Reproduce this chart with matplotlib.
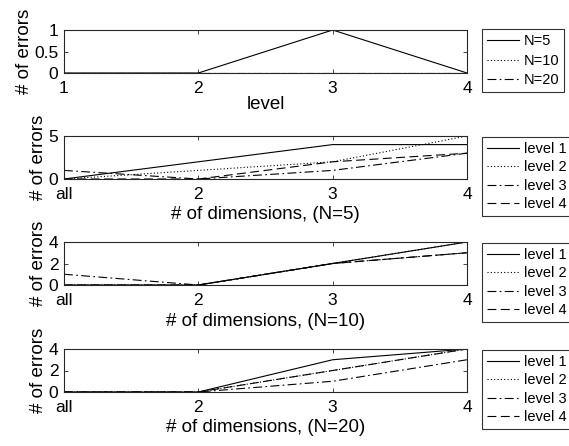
import matplotlib
matplotlib.use("Agg")
import matplotlib.pyplot as plt

plt.rcParams['font.family'] = ['Liberation Sans', 'DejaVu Sans']
plt.rcParams['font.size'] = 12

# error counts per level for each N
levels = [1, 2, 3, 4]
err_n5 = [0, 0, 1, 0]
err_n10 = [0, 0, 0, 0]
err_n20 = [0, 0, 0, 0]

# error counts vs number of dimensions ("all", 2, 3, 4)
dim_pos = [1, 2, 3, 4]
dim_labels = ['all', '2', '3', '4']

n5_lvl1 = [0, 2, 4, 4]
n5_lvl2 = [0, 1, 2, 5]
n5_lvl3 = [1, 0, 1, 3]
n5_lvl4 = [0, 0, 2, 3]

n10_lvl1 = [0, 0, 2, 4]
n10_lvl2 = [0, 0, 2, 4]
n10_lvl3 = [1, 0, 2, 3]
n10_lvl4 = [0, 0, 2, 3]

n20_lvl1 = [0, 0, 3, 4]
n20_lvl2 = [0, 0, 2, 4]
n20_lvl3 = [0, 0, 1, 3]
n20_lvl4 = [0, 0, 2, 4]

W, H = 569, 446
fig = plt.figure(figsize=(W / 100, H / 100), dpi=100)

styles = ['-', (0, (1, 2)), (0, (8, 3, 1.5, 3)), (0, (8, 4))]
frame = '#262626'


def make_axes(top_px):
    ax = fig.add_axes([64 / W, 1 - (top_px + 43) / H, 403 / W, 43 / H])
    for s in ax.spines.values():
        s.set_color(frame)
        s.set_linewidth(0.8)
    ax.tick_params(direction='in', top=True, right=True, length=3,
                   width=0.6, color=frame, labelsize=12.5)
    ax.tick_params(axis='x', pad=6)
    ax.tick_params(axis='y', pad=4)
    ax.set_ylabel('# of errors', fontsize=13.5, labelpad=1)
    return ax


def add_legend(ax, handles, labels, top_px, spacing, bpad):
    leg = ax.legend(handles, labels, loc='upper left',
                    bbox_to_anchor=(482 / W, 1 - top_px / H),
                    bbox_transform=fig.transFigure, borderaxespad=0,
                    fontsize=10.5, handlelength=2.2, handletextpad=0.3,
                    labelspacing=spacing, borderpad=bpad, fancybox=False,
                    frameon=True)
    leg.get_frame().set_edgecolor('black')
    leg.get_frame().set_linewidth(0.8)


# top panel: errors per level
ax = make_axes(30)
h = []
for y, ls in zip([err_n5, err_n10, err_n20], styles[:3]):
    h += ax.plot(levels, y, color='black', lw=0.8, linestyle=ls)
ax.set_xlim(1, 4)
ax.set_ylim(0, 1)
ax.set_xticks(levels)
ax.set_yticks([0, 0.5, 1])
ax.set_yticklabels(['0', '0.5', '1'])
ax.set_xlabel('level', fontsize=13.5, labelpad=0)
add_legend(ax, h, ['N=5', 'N=10', 'N=20'], 29, 0.38, 0.35)

panels = [
    (136, [n5_lvl1, n5_lvl2, n5_lvl3, n5_lvl4], 5, [0, 5], 'N=5'),
    (242, [n10_lvl1, n10_lvl2, n10_lvl3, n10_lvl4], 4, [0, 2, 4], 'N=10'),
    (349, [n20_lvl1, n20_lvl2, n20_lvl3, n20_lvl4], 4, [0, 2, 4], 'N=20'),
]

for top, series, ymax, yt, n in panels:
    ax = make_axes(top)
    h = []
    for y, ls in zip(series, styles):
        h += ax.plot(dim_pos, y, color='black', lw=0.8, linestyle=ls)
    ax.set_xlim(1, 4)
    ax.set_ylim(0, ymax)
    ax.set_xticks(dim_pos)
    ax.set_xticklabels(dim_labels)
    ax.set_yticks(yt)
    ax.set_xlabel('# of dimensions, (%s)' % n, fontsize=13.5, labelpad=3)
    add_legend(ax, h, ['level 1', 'level 2', 'level 3', 'level 4'],
               top + 1, 0.3, 0.35)

fig.savefig('out.png', dpi=100)
